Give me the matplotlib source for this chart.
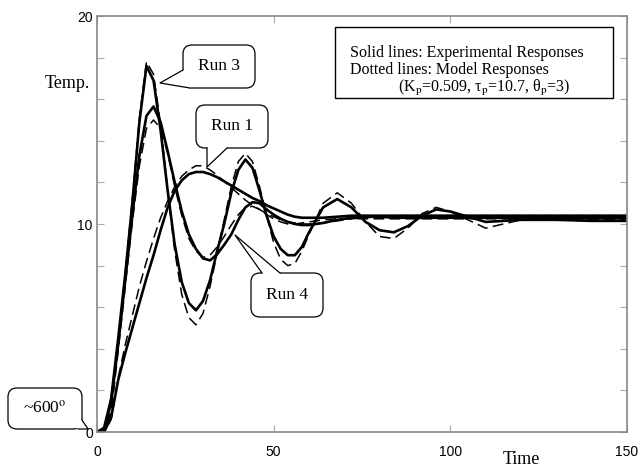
import numpy as np
import matplotlib
matplotlib.use("Agg")
import matplotlib.pyplot as plt
from matplotlib.patches import FancyBboxPatch, Polygon, Rectangle
from matplotlib.lines import Line2D
from matplotlib.transforms import IdentityTransform

plt.rcParams['mathtext.fontset'] = 'stix'

# time grid shared by all curves
t = [0, 2, 4, 6, 8, 10, 12, 14, 16, 18, 20, 22, 24, 26, 28, 30, 32, 34, 36, 38,
     40, 42, 44, 46, 48, 50, 52, 54, 56, 58, 60, 64, 68, 72, 76, 80, 84, 88, 92,
     96, 100, 110, 120, 130, 140, 150]

run3_exp = [0, 0.2, 1.6, 4.5, 7.6, 11.0, 14.9, 17.6, 16.9, 14.5, 11.6, 9.0, 7.2,
            6.2, 5.85, 6.3, 7.3, 8.7, 10.0, 11.5, 12.6, 13.1, 12.7, 11.6, 10.4,
            9.4, 8.8, 8.5, 8.5, 8.9, 9.6, 10.8, 11.2, 10.8, 10.1, 9.7, 9.6, 9.9,
            10.4, 10.7, 10.6, 10.1, 10.2, 10.2, 10.15, 10.15]
run3_mod = [0, 0, 1.0, 4.2, 7.6, 11.2, 15.1, 17.8, 17.2, 14.8, 11.6, 8.7, 6.6,
            5.5, 5.15, 5.7, 7.0, 8.6, 10.2, 11.8, 13.0, 13.4, 13.0, 11.8, 10.4,
            9.1, 8.3, 8.0, 8.1, 8.7, 9.5, 11.0, 11.5, 11.0, 10.1, 9.4, 9.3, 9.8,
            10.5, 10.8, 10.6, 9.8, 10.2, 10.3, 10.2, 10.2]
run4_exp = [0, 0.1, 1.4, 4.2, 7.3, 10.4, 13.3, 15.2, 15.65, 14.9, 13.5, 12.0, 10.6,
            9.5, 8.8, 8.35, 8.25, 8.55, 9.0, 9.5, 10.2, 10.8, 11.05, 11.0, 10.7,
            10.45, 10.25, 10.1, 10.0, 9.95, 9.95, 10.05, 10.2, 10.3, 10.35, 10.35,
            10.3, 10.3, 10.3, 10.3, 10.3, 10.3, 10.3, 10.3, 10.3, 10.3]
run4_mod = [0, 0, 0.9, 3.9, 7.0, 10.1, 12.8, 14.6, 15.0, 14.6, 13.4, 11.8, 10.4,
            9.3, 8.7, 8.4, 8.5, 8.9, 9.4, 9.95, 10.45, 10.8, 10.85, 10.7, 10.45,
            10.25, 10.1, 10.0, 10.0, 10.05, 10.1, 10.2, 10.25, 10.25, 10.25, 10.25,
            10.25, 10.25, 10.25, 10.25, 10.25, 10.25, 10.25, 10.25, 10.25, 10.25]
run1_exp = [0, 0, 0.7, 2.5, 3.8, 5.0, 6.2, 7.4, 8.5, 9.7, 10.8, 11.6, 12.1, 12.4,
            12.5, 12.5, 12.4, 12.25, 12.05, 11.85, 11.65, 11.45, 11.25, 11.1, 10.9,
            10.75, 10.6, 10.45, 10.35, 10.3, 10.3, 10.3, 10.35, 10.4, 10.4, 10.4,
            10.4, 10.4, 10.4, 10.4, 10.4, 10.4, 10.4, 10.4, 10.4, 10.4]
run1_mod = [0, 0, 0.6, 2.6, 4.2, 5.6, 7.0, 8.2, 9.3, 10.3, 11.1, 11.8, 12.3, 12.6,
            12.8, 12.8, 12.6, 12.35, 12.05, 11.75, 11.45, 11.15, 10.9, 10.7, 10.5,
            10.35, 10.2, 10.1, 10.05, 10.0, 10.0, 10.05, 10.15, 10.25, 10.3, 10.35,
            10.4, 10.4, 10.4, 10.4, 10.4, 10.4, 10.4, 10.4, 10.4, 10.4]

W, H = 641, 470
fig = plt.figure(figsize=(W / 100, H / 100), dpi=100)
ax = fig.add_axes([97 / W, 1 - 432 / H, 530 / W, 416 / H])

for y in [run3_exp, run4_exp, run1_exp]:
    ax.plot(t, y, color='black', lw=1.9, solid_joinstyle='round')
for y in [run3_mod, run4_mod, run1_mod]:
    ax.plot(t, y, color='black', lw=1.1, dashes=(7, 3.5))

ax.set_xlim(0, 150)
ax.set_ylim(0, 20)
ax.set_xticks([0, 50, 100, 150])
ax.set_yticks([0, 10, 20])
ax.set_yticks(np.arange(0, 21, 2), minor=True)
ax.tick_params(which='both', direction='in', top=True, right=True,
               color='#aaaaaa', length=5, width=0.8, labelsize=10)
ax.tick_params(axis='x', pad=9)
ax.tick_params(axis='y', pad=3)
for lab in ax.get_xticklabels() + ax.get_yticklabels():
    lab.set_family('Liberation Sans')
for s in ax.spines.values():
    s.set_color('#888888')
    s.set_linewidth(1.2)

serif = 'Liberation Serif'
fig.text(90 / W, 1 - 84 / H, 'Temp.', family=serif, fontsize=13,
         ha='right', va='center')
fig.text(521 / W, 1 - 460 / H, 'Time', family=serif, fontsize=13,
         ha='center', va='center')

# legend-like text box
ax.add_patch(Rectangle((67.4, 16.06), 78.7, 3.41, fc='white', ec='black',
                       lw=1.0, zorder=5))
ax.text(71.6, 18.22, 'Solid lines: Experimental Responses', family=serif,
        fontsize=11.5, va='center', zorder=6)
ax.text(71.6, 17.40, 'Dotted lines: Model Responses', family=serif,
        fontsize=11.5, va='center', zorder=6)
ax.text(85.2, 16.54,
        r'(K$_\mathrm{p}$=0.509, τ$_\mathrm{p}$=10.7, θ$_\mathrm{p}$=3)',
        family=serif, fontsize=11.5, va='center', zorder=6)


def callout(text, x0, y0, x1, y1, tip, b1, b2):
    # box corners, tip and wedge base given in pixels from top-left
    ident = IdentityTransform()
    box = FancyBboxPatch((x0, H - y1), x1 - x0, y1 - y0,
                         boxstyle='round,pad=0,rounding_size=9',
                         fc='white', ec='black', lw=0.9, transform=ident,
                         clip_on=False, zorder=7)
    fig.add_artist(box)
    cx, cy = (x0 + x1) / 2, H - (y0 + y1) / 2
    pts = [(b1[0], H - b1[1]), (tip[0], H - tip[1]), (b2[0], H - b2[1]), (cx, cy)]
    fig.add_artist(Polygon(pts, closed=True, fc='white', ec='none',
                           transform=ident, zorder=8))
    fig.add_artist(Line2D([pts[0][0], pts[1][0], pts[2][0]],
                          [pts[0][1], pts[1][1], pts[2][1]], color='black',
                          lw=0.9, transform=ident, zorder=9))
    fig.text(cx / W, cy / H, text, family=serif, fontsize=12.5,
             ha='center', va='center', zorder=10)


callout('Run 3', 183, 45, 255, 88, (160, 83), (183, 70), (190, 88))
callout('Run 1', 196, 105, 268, 148, (207, 167), (207, 148), (227, 148))
callout('Run 4', 251, 273, 323, 317, (235, 235), (262, 273), (280, 273))
callout(r'~600$^\mathrm{o}$', 8, 388, 82, 429, (88, 429), (82, 420), (78, 429))

fig.savefig('out.png', dpi=100)
